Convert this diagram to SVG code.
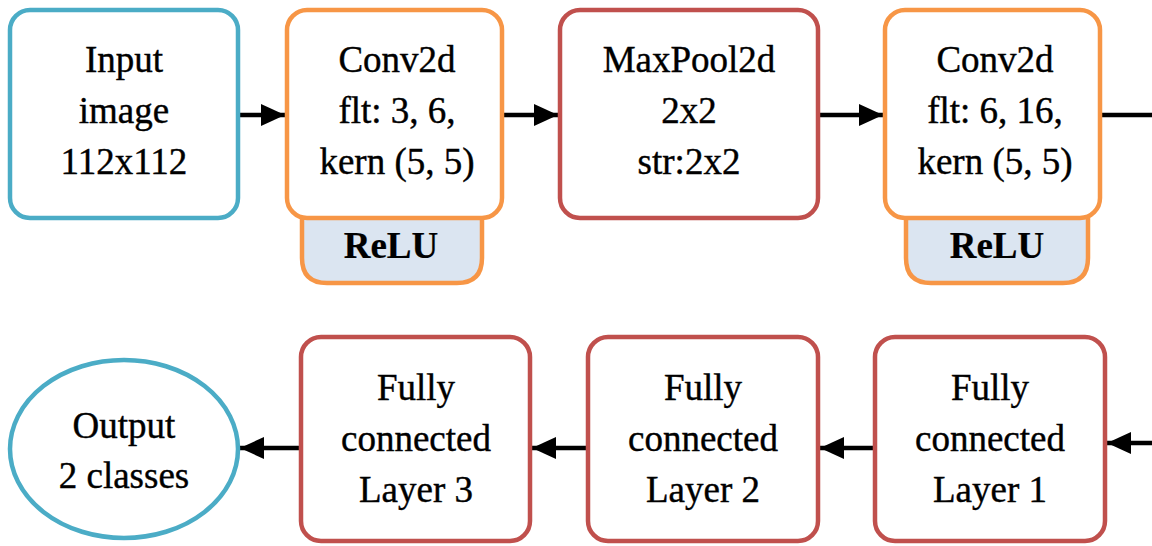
<svg xmlns="http://www.w3.org/2000/svg" width="1152" height="546" viewBox="0 0 1152 546">
<defs>
<style>
text{font-size:37px;fill:#000;stroke:#000;stroke-width:0.4;text-anchor:middle}
.b{font-weight:bold;stroke-width:0.2}
.blue{fill:#fff;stroke:#4bacc6;stroke-width:4.5}
.orange{fill:#fff;stroke:#f79646;stroke-width:4.5}
.red{fill:#fff;stroke:#c0504d;stroke-width:4.5}
.tab{fill:#dbe5f1;stroke:#f79646;stroke-width:4.5}
.con{fill:none;stroke:#000;stroke-width:4.5}
</style>
<marker id="ah" markerUnits="userSpaceOnUse" markerWidth="26" markerHeight="24" refX="24" refY="12" orient="auto">
<path d="M0,1 L24,12 L0,23 Z" fill="#000"/>
</marker>
</defs>
<rect width="1152" height="546" fill="#fff"/>
<g id="connectors">
<line class="con" x1="238" y1="115" x2="285" y2="115" marker-end="url(#ah)"/>
<line class="con" x1="502" y1="115" x2="558" y2="115" marker-end="url(#ah)"/>
<line class="con" x1="818" y1="115" x2="883" y2="115" marker-end="url(#ah)"/>
<line class="con" x1="1100" y1="115" x2="1152" y2="115"/>
<line class="con" x1="1152" y1="443" x2="1107" y2="443" marker-end="url(#ah)"/>
<line class="con" x1="875" y1="448" x2="820" y2="448" marker-end="url(#ah)"/>
<line class="con" x1="588" y1="448" x2="532" y2="448" marker-end="url(#ah)"/>
<line class="con" x1="301" y1="448" x2="240" y2="448" marker-end="url(#ah)"/>
</g>
<g font-family="'Liberation Serif', 'Times New Roman', Times, serif">
<g id="input">
<rect class="blue" x="10" y="10" width="228" height="208" rx="20"/>
<text x="124" y="72">Input</text>
<text x="124" y="123">image</text>
<text x="124" y="174">112x112</text>
</g>
<g id="conv1">
<path class="tab" d="M302,205 V258 Q302,283 327,283 H457 Q482,283 482,258 V205"/>
<rect class="orange" x="287" y="10" width="215" height="208" rx="20"/>
<text x="397" y="72">Conv2d</text>
<text x="397" y="123">flt: 3, 6,</text>
<text x="397" y="174">kern (5, 5)</text>
<text class="b" x="391" y="258">ReLU</text>
</g>
<g id="maxpool">
<rect class="red" x="560" y="10" width="258" height="208" rx="20"/>
<text x="689" y="72">MaxPool2d</text>
<text x="689" y="123">2x2</text>
<text x="689" y="174">str:2x2</text>
</g>
<g id="conv2">
<path class="tab" d="M906,205 V258 Q906,283 931,283 H1063 Q1088,283 1088,258 V205"/>
<rect class="orange" x="885" y="10" width="215" height="208" rx="20"/>
<text x="995" y="72">Conv2d</text>
<text x="995" y="123">flt: 6, 16,</text>
<text x="995" y="174">kern (5, 5)</text>
<text class="b" x="997" y="258">ReLU</text>
</g>
<g id="fc1">
<rect class="red" x="875" y="337" width="230" height="204" rx="20"/>
<text x="990" y="400">Fully</text>
<text x="990" y="451">connected</text>
<text x="990" y="502">Layer 1</text>
</g>
<g id="fc2">
<rect class="red" x="588" y="337" width="230" height="204" rx="20"/>
<text x="703" y="400">Fully</text>
<text x="703" y="451">connected</text>
<text x="703" y="502">Layer 2</text>
</g>
<g id="fc3">
<rect class="red" x="301" y="337" width="229" height="204" rx="20"/>
<text x="416" y="400">Fully</text>
<text x="416" y="451">connected</text>
<text x="416" y="502">Layer 3</text>
</g>
<g id="output">
<ellipse class="blue" cx="124" cy="449" rx="114" ry="89"/>
<text x="124" y="438">Output</text>
<text x="124" y="488">2 classes</text>
</g>
</g>
</svg>
